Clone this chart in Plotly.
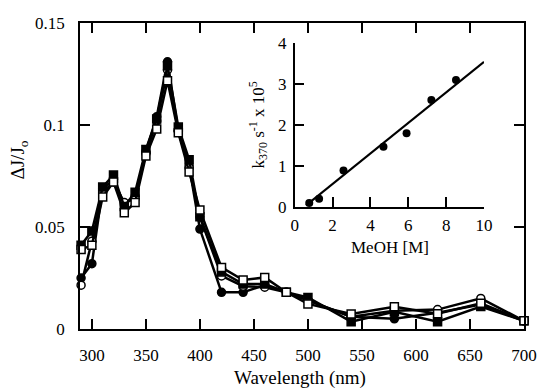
import plotly.graph_objects as go

wavelength = [290, 300, 310, 320, 330, 340, 350, 360, 370, 380, 390, 400,
              420, 440, 460, 480, 500, 540, 580, 620, 660, 700]
filled_circle = [0.025, 0.032, 0.069, 0.073, 0.061, 0.065, 0.087, 0.104, 0.131, 0.097, 0.080, 0.049,
                 0.018, 0.018, 0.0215, 0.018, 0.014, 0.006, 0.005, 0.008, 0.012, 0.004]
open_circle = [0.0215, 0.043, 0.067, 0.072, 0.062, 0.064, 0.086, 0.102, 0.127, 0.097, 0.079, 0.055,
               0.026, 0.021, 0.0205, 0.018, 0.014, 0.006, 0.009, 0.0095, 0.015, 0.004]
filled_square = [0.041, 0.048, 0.0696, 0.0755, 0.060, 0.067, 0.088, 0.103, 0.129, 0.099, 0.083, 0.055,
                 0.028, 0.022, 0.022, 0.018, 0.0155, 0.0036, 0.0085, 0.0036, 0.011, 0.004]
open_square = [0.039, 0.041, 0.0647, 0.072, 0.057, 0.062, 0.0848, 0.098, 0.1217, 0.0962, 0.077, 0.0583,
               0.0302, 0.024, 0.0253, 0.018, 0.0123, 0.0074, 0.0109, 0.0075, 0.0126, 0.004]

meoh = [0.77, 1.29, 2.58, 4.69, 5.91, 7.22, 8.52]
k370 = [0.10, 0.20, 0.89, 1.47, 1.80, 2.61, 3.10]
fit_x = [0.6, 10]
fit_y = [0.04, 3.54]

FONT = "'Liberation Serif', 'DejaVu Serif', serif"
fig = go.Figure()

series = [
    (filled_circle, "circle", "black"),
    (open_circle, "circle", "white"),
    (filled_square, "square", "black"),
    (open_square, "square", "white"),
]
for ys, sym, fill in series:
    fig.add_trace(go.Scatter(
        x=wavelength, y=ys, mode="lines+markers",
        line=dict(color="black", width=2.5),
        marker=dict(symbol=sym, size=8, color=fill, line=dict(color="black", width=1.5)),
        cliponaxis=False, showlegend=False, xaxis="x", yaxis="y"))

fig.add_trace(go.Scatter(x=fit_x, y=fit_y, mode="lines", line=dict(color="black", width=2),
                         showlegend=False, xaxis="x2", yaxis="y2"))
fig.add_trace(go.Scatter(x=meoh, y=k370, mode="markers",
                         marker=dict(symbol="circle", size=8, color="black"),
                         cliponaxis=False, showlegend=False, xaxis="x2", yaxis="y2"))

axis_common = dict(showgrid=False, zeroline=False, showline=True, linecolor="black", linewidth=1.5,
                   ticks="inside", ticklen=10, tickwidth=1.5, tickcolor="black",
                   tickfont=dict(family=FONT, size=17, color="black"))

fig.update_layout(
    width=549, height=389,
    margin=dict(l=80, r=14, t=23, b=60),
    plot_bgcolor="white", paper_bgcolor="white",
    font=dict(family=FONT, color="black"),
    xaxis=dict(range=[289, 700], tickvals=[300, 350, 400, 450, 500, 550, 600, 650, 700],
               mirror="allticks", ticklabelstandoff=10, **axis_common),
    yaxis=dict(range=[0, 0.15], tickvals=[0, 0.05, 0.1, 0.15], ticktext=["0", "0.05", "0.1", "0.15"],
               mirror="allticks", ticklabelstandoff=10, **axis_common),
    xaxis2=dict(domain=[0.4835, 0.9099], range=[0, 10], tickvals=[0, 2, 4, 6, 8, 10],
                anchor="y2", ticklabelstandoff=2, **axis_common),
    yaxis2=dict(domain=[0.3987, 0.9346], range=[0, 4], tickvals=[0, 1, 2, 3, 4],
                anchor="x2", ticklabelstandoff=3, **axis_common),
    annotations=[
        dict(text="Wavelength (nm)", x=0.4945, y=-0.160, xref="paper", yref="paper",
             showarrow=False, font=dict(family=FONT, size=19, color="black"),
             xanchor="center", yanchor="middle"),
        dict(text="ΔJ/J<sub>o</sub>", x=(18 - 80) / 455, y=(329 - 160) / 306, xref="paper", yref="paper",
             showarrow=False, textangle=-90, font=dict(family=FONT, size=19, color="black"),
             xanchor="center", yanchor="middle"),
        dict(text="k<sub>370</sub> s<sup>-1</sup> x 10<sup>5</sup>", x=0.402, y=0.667,
             xref="paper", yref="paper", showarrow=False, textangle=-90,
             font=dict(family=FONT, size=17, color="black"), xanchor="center", yanchor="middle"),
        dict(text="MeOH [M]", x=0.699, y=(329 - 247) / 306, xref="paper", yref="paper", showarrow=False,
             font=dict(family=FONT, size=17, color="black"), xanchor="center", yanchor="middle"),
    ],
)

fig.write_html("out.html")
